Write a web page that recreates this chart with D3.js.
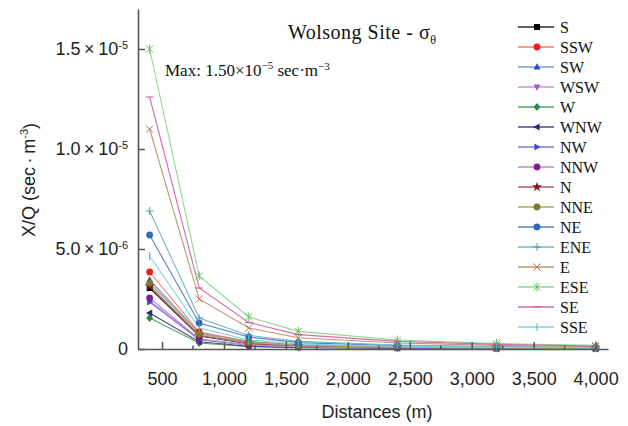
<!DOCTYPE html>
<html>
<head>
<meta charset="utf-8">
<script src="https://cdn.jsdelivr.net/npm/d3@7"></script>
<style>
  body { margin: 0; background: #fff; }
  svg { display: block; }
</style>
</head>
<body>
<svg id="chart" width="628" height="426"></svg>
<script>
// distances (m) at which X/Q was computed
const distances = [400, 800, 1200, 1600, 2400, 3200, 4000];

const directions = ["S", "SSW", "SW", "WSW", "W", "WNW", "NW", "NNW",
                    "N", "NNE", "NE", "ENE", "E", "ESE", "SE", "SSE"];

// X/Q values, in units of 1e-6 sec·m^-3
const xqS   = [3.05, 0.65, 0.27, 0.15, 0.08, 0.05, 0.035];
const xqSSW = [3.85, 0.85, 0.38, 0.21, 0.11, 0.07, 0.05];
const xqSW  = [3.45, 0.80, 0.35, 0.19, 0.10, 0.06, 0.04];
const xqWSW = [2.40, 0.50, 0.21, 0.12, 0.06, 0.04, 0.03];
const xqW   = [1.55, 0.30, 0.12, 0.07, 0.04, 0.025, 0.02];
const xqWNW = [1.80, 0.36, 0.14, 0.08, 0.045, 0.03, 0.02];
const xqNW  = [2.35, 0.46, 0.19, 0.11, 0.06, 0.035, 0.025];
const xqNNW = [2.55, 0.50, 0.20, 0.11, 0.06, 0.04, 0.03];
const xqN   = [3.15, 0.68, 0.28, 0.16, 0.08, 0.05, 0.035];
const xqNNE = [3.30, 0.75, 0.33, 0.18, 0.09, 0.055, 0.04];
const xqNE  = [5.70, 1.30, 0.60, 0.32, 0.17, 0.10, 0.07];
const xqENE = [6.90, 1.55, 0.68, 0.38, 0.20, 0.12, 0.08];
const xqE   = [11.0, 2.50, 1.05, 0.56, 0.30, 0.18, 0.12];
const xqESE = [15.0, 3.65, 1.60, 0.88, 0.45, 0.27, 0.18];
const xqSE  = [12.6, 3.05, 1.33, 0.72, 0.38, 0.23, 0.15];
const xqSSE = [4.65, 1.05, 0.45, 0.25, 0.13, 0.08, 0.05];

const seriesValues = [xqS, xqSSW, xqSW, xqWSW, xqW, xqWNW, xqNW, xqNNW,
                      xqN, xqNNE, xqNE, xqENE, xqE, xqESE, xqSE, xqSSE];

const xTicks = [500, 1000, 1500, 2000, 2500, 3000, 3500, 4000];
const xMinorTicks = [750, 1250, 1750, 2250, 2750, 3250, 3750];
const yTicks = [0, 5, 10, 15];
const yTickLabels = [["0", ""], ["5.0\u2009\u00d7\u200910", "-6"],
                     ["1.0\u2009\u00d7\u200910", "-5"], ["1.5\u2009\u00d7\u200910", "-5"]];

// look of each direction
const style = {
  S:   { line: "#2a2a2a", fill: "#000000", marker: "square" },
  SSW: { line: "#f47a6a", fill: "#ee1c1c", marker: "circle" },
  SW:  { line: "#7b96dc", fill: "#1f4fc0", marker: "triUp" },
  WSW: { line: "#c995d6", fill: "#b050c0", marker: "triDown" },
  W:   { line: "#55a565", fill: "#2a8a45", marker: "diamond" },
  WNW: { line: "#4a4a80", fill: "#2a2a6e", marker: "triLeft" },
  NW:  { line: "#7a7ad8", fill: "#4a4ac8", marker: "triRight" },
  NNW: { line: "#c08ad0", fill: "#802090", marker: "circle" },
  N:   { line: "#b06060", fill: "#8a1a1a", marker: "star" },
  NNE: { line: "#a8a860", fill: "#7e7a30", marker: "circle" },
  NE:  { line: "#5a80c8", fill: "#2f68b8", marker: "circle" },
  ENE: { line: "#6fb8c4", fill: "#3fa4b0", marker: "plus" },
  E:   { line: "#c49470", fill: "#b07848", marker: "x" },
  ESE: { line: "#8ed88e", fill: "#60c060", marker: "asterisk" },
  SE:  { line: "#d86aa8", fill: "#d05098", marker: "hbar" },
  SSE: { line: "#7ad4e0", fill: "#40b8d0", marker: "vbar" }
};

const strokeMarkers = new Set(["plus", "x", "asterisk", "hbar", "vbar"]);

function markerPath(type) {
  switch (type) {
    case "square":   return "M-3,-3H3V3H-3Z";
    case "circle":   return d3.symbol(d3.symbolCircle, 36)();
    case "triUp":    return "M0,-3.8L3.5,2.6L-3.5,2.6Z";
    case "triDown":  return "M0,3.8L3.5,-2.6L-3.5,-2.6Z";
    case "triLeft":  return "M-3.8,0L2.6,-3.5L2.6,3.5Z";
    case "triRight": return "M3.8,0L-2.6,-3.5L-2.6,3.5Z";
    case "diamond":  return "M0,-4L3.5,0L0,4L-3.5,0Z";
    case "star":     return d3.symbol(d3.symbolStar, 32)();
    case "plus":     return "M0,-4V4M-4,0H4";
    case "x":        return "M-3.5,-3.5L3.5,3.5M-3.5,3.5L3.5,-3.5";
    case "asterisk": return "M-3.5,-3.5L3.5,3.5M-3.5,3.5L3.5,-3.5M0,-4.5V4.5";
    case "hbar":     return "M-4,0H4";
    case "vbar":     return "M0,-4V4";
  }
}

const svg = d3.select("#chart");
const axisColor = "#555";
const sansFont = "'Liberation Sans', Arial, sans-serif";
const serifFont = "'Liberation Serif', 'Times New Roman', serif";

const x = d3.scaleLinear().domain([306, 4100]).range([138, 608]);
const y = d3.scaleLinear().domain([0, 17]).range([349, 9]);

// data lines + markers
const line = d3.line().x((d, i) => x(distances[i])).y(d => y(d));

const series = directions.map((name, i) => ({ name, values: seriesValues[i], st: style[name] }));

const plot = svg.append("g");
series.forEach(s => {
  plot.append("path")
    .attr("d", line(s.values))
    .attr("fill", "none")
    .attr("stroke", s.st.line)
    .attr("stroke-width", 1.1);
});
series.forEach(s => {
  const isStroke = strokeMarkers.has(s.st.marker);
  plot.append("g")
    .selectAll("path")
    .data(s.values)
    .join("path")
    .attr("transform", (d, i) => `translate(${x(distances[i])},${y(d)})`)
    .attr("d", markerPath(s.st.marker))
    .attr("fill", isStroke ? "none" : s.st.fill)
    .attr("stroke", isStroke ? s.st.fill : "none")
    .attr("stroke-width", 1);
});

// x axis
const xAxis = svg.append("g")
  .attr("transform", "translate(0,349)")
  .call(d3.axisBottom(x).tickValues(xTicks).tickFormat(d3.format(","))
    .tickSizeInner(-7).tickSizeOuter(0).tickPadding(23));
xAxis.selectAll(".tick text")
  .attr("font-family", sansFont).attr("font-size", 18).attr("fill", "#222");

svg.append("g")
  .attr("transform", "translate(0,349)")
  .selectAll("line")
  .data(xMinorTicks)
  .join("line")
  .attr("x1", d => x(d)).attr("x2", d => x(d))
  .attr("y1", 0).attr("y2", -3.5)
  .attr("stroke", axisColor).attr("stroke-width", 1.5);

// y axis
const yAxis = svg.append("g")
  .attr("transform", "translate(138,0)")
  .call(d3.axisLeft(y).tickValues(yTicks).tickFormat("")
    .tickSizeInner(-7).tickSizeOuter(0).tickPadding(10));
yAxis.selectAll(".tick text").each(function (d, i) {
  const t = d3.select(this)
    .attr("font-family", sansFont).attr("font-size", 18).attr("fill", "#222");
  const [base, sup] = yTickLabels[i];
  t.append("tspan").text(base);
  if (sup) t.append("tspan").attr("font-size", 11).attr("dy", "-0.55em").text(sup);
});

[xAxis, yAxis].forEach(a => {
  a.select(".domain").attr("stroke", axisColor).attr("stroke-width", 1.6);
  a.selectAll(".tick line").attr("stroke", axisColor).attr("stroke-width", 1.5);
});

// axis titles
const yTitle = svg.append("text")
  .attr("transform", "translate(35,180) rotate(-90)")
  .attr("text-anchor", "middle")
  .attr("font-family", sansFont).attr("font-size", 18).attr("fill", "#222");
yTitle.append("tspan").text("X/Q (sec\u2009\u00b7\u2009m");
yTitle.append("tspan").attr("font-size", 11).attr("dy", "-0.6em").text("-3");
yTitle.append("tspan").attr("dy", "0.4em").text(")");

svg.append("text")
  .attr("x", 377).attr("y", 418)
  .attr("text-anchor", "middle")
  .attr("font-family", sansFont).attr("font-size", 18).attr("fill", "#222")
  .text("Distances (m)");

// title and max note
const title = svg.append("text")
  .attr("x", 288).attr("y", 39)
  .attr("font-family", serifFont).attr("font-size", 20)
  .attr("letter-spacing", 0.5).attr("fill", "#111");
title.append("tspan").text("Wolsong Site - \u03c3");
title.append("tspan").attr("font-size", 12).attr("dy", "0.45em").text("\u03b8");

const maxNote = svg.append("text")
  .attr("x", 165).attr("y", 76)
  .attr("font-family", serifFont).attr("font-size", 17).attr("fill", "#111");
maxNote.append("tspan").text("Max: 1.50\u00d710");
maxNote.append("tspan").attr("font-size", 11).attr("dy", "-0.6em").text("\u22125");
maxNote.append("tspan").attr("dy", "0.4em").text(" sec\u00b7m");
maxNote.append("tspan").attr("font-size", 11).attr("dy", "-0.6em").text("\u22123");

// legend
const legend = svg.append("g")
  .selectAll("g")
  .data(series)
  .join("g")
  .attr("transform", (d, i) => `translate(0,${27 + i * 20})`);

legend.append("line")
  .attr("x1", 518).attr("x2", 554)
  .attr("stroke", d => d.st.line).attr("stroke-width", 1.3);

legend.append("path")
  .attr("transform", "translate(537,0)")
  .attr("d", d => markerPath(d.st.marker))
  .attr("fill", d => strokeMarkers.has(d.st.marker) ? "none" : d.st.fill)
  .attr("stroke", d => strokeMarkers.has(d.st.marker) ? d.st.fill : "none");

legend.append("text")
  .attr("x", 560).attr("dy", "0.35em")
  .attr("font-family", serifFont).attr("font-size", 16).attr("fill", "#111")
  .text(d => d.name);
</script>
</body>
</html>
